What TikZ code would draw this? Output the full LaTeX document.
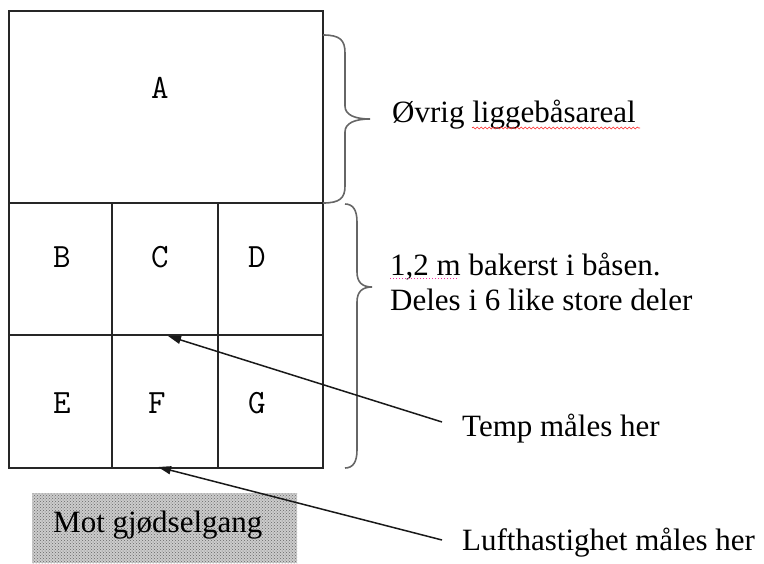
\documentclass[tikz,border=0pt]{standalone}
\usepackage{fontspec}
\setmainfont{Liberation Serif}
\usetikzlibrary{arrows.meta,decorations.pathmorphing,patterns}

\begin{document}
\begin{tikzpicture}[x=1pt,y=-1pt,
  cellbox/.style={draw=black!85,line width=1.4pt,rectangle,inner sep=0pt,outer sep=0pt},
  cellname/.style={font=\ttfamily\fontsize{34}{34}\selectfont,inner sep=0pt},
  notetext/.style={font=\fontsize{31}{37}\selectfont,anchor=base west,inner sep=0pt},
  bracepath/.style={draw=black!60,line width=1.6pt},
  pointer/.style={draw=black!90,line width=1.5pt,-{Triangle[length=13pt,width=8pt]}},
  spellmark/.style={draw=red!85,line width=0.6pt,decorate,decoration={snake,amplitude=1pt,segment length=4pt}},
  grammarmark/.style={draw=magenta!80,line width=1pt,dotted}
]
\useasboundingbox (0,0) rectangle (764,563);

% stall floor plan: lying area A and the rear 1.2 m split into six parts
\node[cellbox,minimum width=314pt,minimum height=192pt] (A) at (166,107) {};
\node[cellbox,minimum width=103pt,minimum height=132pt] (B) at (60.5,269) {};
\node[cellbox,minimum width=106pt,minimum height=132pt] (C) at (165,269) {};
\node[cellbox,minimum width=105pt,minimum height=132pt] (D) at (270.5,269) {};
\node[cellbox,minimum width=103pt,minimum height=133pt] (E) at (60.5,401.5) {};
\node[cellbox,minimum width=106pt,minimum height=133pt] (F) at (165,401.5) {};
\node[cellbox,minimum width=105pt,minimum height=133pt] (G) at (270.5,401.5) {};

\node[cellname] (nA) at (160,88) {A};
\node[cellname] (nB) at (62,257.5) {B};
\node[cellname] (nC) at (160,257.5) {C};
\node[cellname] (nD) at (257,257.5) {D};
\node[cellname] (nE) at (62,403) {E};
\node[cellname] (nF) at (157,403) {F};
\node[cellname] (nG) at (257,403) {G};

% curly braces
\draw[bracepath] (323,35) .. controls (340,35) and (345,40) .. (345,53)
  -- (345,106) .. controls (345,115) and (355,119) .. (370,119)
  .. controls (355,119) and (345,123) .. (345,132)
  -- (345,186) .. controls (345,198) and (340,203) .. (323,203);
\draw[bracepath] (345,204) .. controls (353,204) and (357,210) .. (357,222)
  -- (357,272) .. controls (357,282) and (362,287) .. (372,287)
  .. controls (362,287) and (357,292) .. (357,302)
  -- (357,450) .. controls (357,462) and (353,468) .. (345,468);

% texts
\node[notetext] (rest) at (392,122) {Øvrig liggebåsareal};
\node[notetext] (rear1) at (390,275) {1,2 m bakerst i båsen.};
\node[notetext] (rear2) at (390,310) {Deles i 6 like store deler};
\node[notetext] (temp) at (462,436) {Temp måles her};
\node[notetext] (air) at (462,550) {Lufthastighet måles her};

% proofing marks
\draw[spellmark] (472,128) -- (640,128);
\draw[grammarmark] (390,278.5) -- (458,278.5);

% manure alley box
\fill[black!20] (32,493) rectangle (297,563);
\fill[pattern=crosshatch dots,pattern color=black!60] (32,493) rectangle (297,563);
\node[notetext] (alley) at (53,532) {Mot gjødselgang};

% pointers
\coordinate (tempFoot) at (442,422);
\coordinate (tempTip) at (168,336);
\coordinate (airFoot) at (442,540);
\coordinate (airTip) at (158,467);
\draw[pointer] (tempFoot) -- (tempTip);
\draw[pointer] (airFoot) -- (airTip);
\end{tikzpicture}
\end{document}
